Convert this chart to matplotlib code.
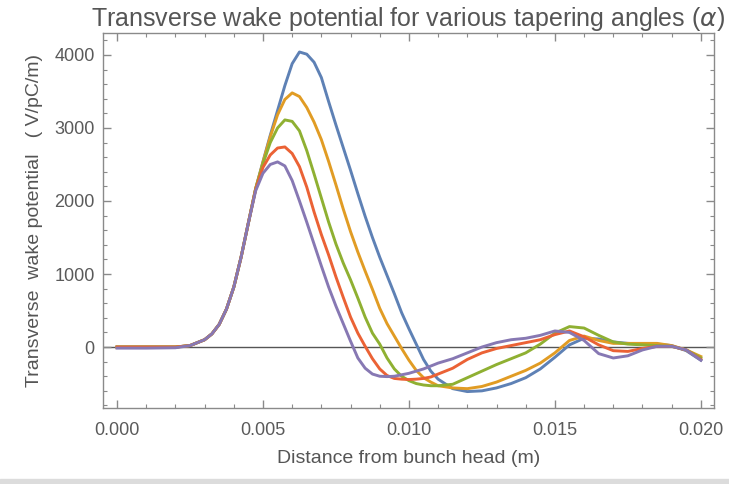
import numpy as np
import matplotlib.pyplot as plt
from matplotlib.ticker import MultipleLocator, FormatStrFormatter

# distance behind the bunch head, in mm (converted to m for plotting)
distance_mm = [0, 1, 2, 2.5, 3, 3.25, 3.5, 3.75, 4, 4.25, 4.5, 4.75,
               5, 5.25, 5.5, 5.75, 6, 6.25, 6.5, 6.75, 7, 7.25, 7.5, 7.75,
               8, 8.25, 8.5, 8.75, 9, 9.25, 9.5, 9.75, 10, 10.25, 10.5, 10.75,
               11, 11.5, 12, 12.5, 13, 13.5, 14, 14.5, 15, 15.5, 16, 16.5,
               17, 17.5, 18, 18.5, 19, 19.5, 20]

# transverse wake (V/pC/m), one series per tapering angle
wake_1 = [0, 0, 0, 20, 100, 180, 310, 520, 820, 1230, 1700, 2170,
          2540, 2900, 3240, 3580, 3880, 4040, 4010, 3900, 3690, 3360, 3040, 2730,
          2420, 2100, 1790, 1500, 1230, 980, 730, 470, 250, 40, -170, -330,
          -440, -570, -610, -600, -560, -500, -420, -300, -140, 30, 120, 110,
          70, 50, 40, 40, 20, -50, -180]
wake_2 = [0, 0, 0, 20, 100, 180, 310, 520, 820, 1230, 1700, 2170,
          2530, 2880, 3180, 3390, 3480, 3430, 3280, 3080, 2840, 2540, 2220, 1890,
          1580, 1300, 1040, 790, 530, 320, 150, -20, -180, -320, -420, -480,
          -530, -560, -570, -540, -480, -400, -320, -220, -80, 90, 150, 90,
          50, 50, 50, 50, 20, -40, -130]
wake_3 = [0, 0, 0, 20, 100, 180, 310, 520, 820, 1230, 1700, 2170,
          2510, 2800, 3000, 3110, 3090, 2960, 2690, 2370, 2040, 1710, 1410, 1150,
          920, 670, 410, 190, 40, -150, -300, -400, -460, -500, -520, -530,
          -530, -510, -420, -330, -240, -160, -80, 40, 190, 280, 260, 160,
          70, 40, 30, 20, 10, -40, -150]
wake_4 = [0, 0, 0, 20, 100, 180, 310, 520, 820, 1230, 1700, 2160,
          2460, 2630, 2725, 2740, 2650, 2470, 2190, 1850, 1540, 1260, 960, 680,
          410, 190, 10, -160, -300, -390, -430, -440, -445, -440, -430, -410,
          -370, -290, -170, -80, -20, 20, 60, 100, 170, 220, 140, 30,
          -50, -60, -20, 10, 10, -40, -170]
wake_5 = [-15, -15, -10, 20, 100, 180, 310, 520, 820, 1230, 1700, 2140,
          2380, 2500, 2535, 2480, 2280, 2000, 1710, 1410, 1110, 820, 560, 320,
          80, -150, -290, -370, -400, -405, -400, -380, -360, -330, -300, -260,
          -220, -160, -80, 0, 60, 100, 120, 160, 220, 200, 90, -90,
          -150, -120, -40, 10, 10, -40, -180]

series = [wake_1, wake_2, wake_3, wake_4, wake_5]
colors = ["#5E81B5", "#E19C24", "#8FB032", "#EB6235", "#8778B3"]

x = np.array(distance_mm) / 1000.0

plt.rcParams["font.family"] = ["Liberation Sans", "DejaVu Sans"]

fig = plt.figure(figsize=(7.29, 4.84), dpi=100)
ax = fig.add_axes([0.1413, 0.1570, 0.8381, 0.7748])

ax.axhline(0, color="#555555", lw=1.0, zorder=1)
for y, c in zip(series, colors):
    ax.plot(x, y, color=c, lw=2.1, zorder=2)

ax.set_xlim(-0.00048, 0.02045)
ax.set_ylim(-835, 4300)

frame_col = "#8a8a8a"
for sp in ax.spines.values():
    sp.set_color(frame_col)
    sp.set_linewidth(1.0)

ax.xaxis.set_major_locator(MultipleLocator(0.005))
ax.xaxis.set_minor_locator(MultipleLocator(0.001))
ax.xaxis.set_major_formatter(FormatStrFormatter("%.3f"))
ax.yaxis.set_major_locator(MultipleLocator(1000))
ax.yaxis.set_minor_locator(MultipleLocator(200))

ax.tick_params(which="both", direction="in", top=True, right=True,
               color=frame_col, labelcolor="#5a5a5a", labelsize=13)
ax.tick_params(which="major", length=6, width=1.0)
ax.tick_params(which="minor", length=3, width=0.8)
ax.tick_params(axis="x", pad=10)
ax.tick_params(axis="y", pad=6)

ax.set_title(r"Transverse wake potential for various tapering angles ($\alpha$)",
             fontsize=18, color="#555555", pad=3)
ax.set_xlabel("Distance from bunch head (m)", fontsize=14, color="#555555", labelpad=8)
ax.set_ylabel("Transverse  wake potential   ( V/pC/m)", fontsize=14, color="#555555",
              labelpad=8)

# thin grey strip along the bottom edge
fig.patches.append(plt.Rectangle((0, 0), 1, 5 / 484, transform=fig.transFigure,
                                 color="#dcdcdc", zorder=0))

fig.savefig("out.png", dpi=100)
